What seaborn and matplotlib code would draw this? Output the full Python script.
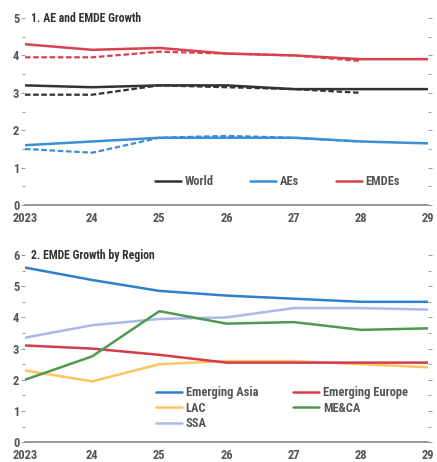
import pandas as pd
import matplotlib.pyplot as plt
import seaborn as sns
from matplotlib.ticker import MultipleLocator
from matplotlib import font_manager

# Data
years = [2023, 2024, 2025, 2026, 2027, 2028, 2029]
year_labels = ["2023", "24", "25", "26", "27", "28", "29"]

world = [3.2, 3.15, 3.2, 3.2, 3.1, 3.1, 3.1]
aes = [1.6, 1.7, 1.8, 1.8, 1.8, 1.7, 1.65]
emdes = [4.3, 4.15, 4.2, 4.05, 4.0, 3.9, 3.9]
# previous forecast (dashed), ends in 2028
prev_years = [2023, 2024, 2025, 2026, 2027, 2028]
world_prev = [2.95, 2.95, 3.2, 3.15, 3.1, 3.0]
aes_prev = [1.5, 1.4, 1.8, 1.85, 1.8, 1.7]
emdes_prev = [3.95, 3.95, 4.1, 4.05, 4.0, 3.85]

asia = [5.6, 5.2, 4.85, 4.7, 4.6, 4.5, 4.5]
europe = [3.1, 3.0, 2.8, 2.55, 2.55, 2.55, 2.55]
lac = [2.3, 1.95, 2.5, 2.6, 2.6, 2.5, 2.4]
meca = [2.0, 2.75, 4.2, 3.8, 3.85, 3.6, 3.65]
ssa = [3.35, 3.75, 3.95, 4.0, 4.3, 4.3, 4.25]

c_world, c_aes, c_emdes = "#333333", "#3b8fd6", "#d8414f"
c_asia, c_eur, c_lac, c_meca, c_ssa = "#2f80cc", "#d23c4b", "#fbc662", "#4f9a4f", "#a9b9ea"

sns.set_style("white")
installed = {f.name for f in font_manager.fontManager.ttflist}
narrow = [f for f in ["Liberation Sans Narrow", "Roboto Condensed", "Open Sans Condensed"]
          if f in installed]
plt.rcParams['font.family'] = narrow + ['Liberation Sans', 'DejaVu Sans']
plt.rcParams['font.weight'] = 'bold'

fig, (ax1, ax2) = plt.subplots(2, 1, figsize=(4.37, 4.62), dpi=100)
fig.subplots_adjust(left=0.057, right=0.98, top=0.961, bottom=0.043, hspace=0.267)

df1 = pd.DataFrame({"year": years, "World": world, "AEs": aes, "EMDEs": emdes})
df1p = pd.DataFrame({"year": prev_years, "World": world_prev, "AEs": aes_prev, "EMDEs": emdes_prev})
for name, col in [("World", c_world), ("AEs", c_aes), ("EMDEs", c_emdes)]:
    sns.lineplot(data=df1, x="year", y=name, color=col, lw=1.8, label=name, ax=ax1)
    sns.lineplot(data=df1p, x="year", y=name, color=col, lw=1.6, ls=(0, (2.5, 1.2)), ax=ax1)

df2 = pd.DataFrame({"year": years, "Emerging Asia": asia, "Emerging Europe": europe,
                    "LAC": lac, "ME&CA": meca, "SSA": ssa})
for name, col in [("Emerging Asia", c_asia), ("LAC", c_lac), ("SSA", c_ssa),
                  ("Emerging Europe", c_eur), ("ME&CA", c_meca)]:
    sns.lineplot(data=df2, x="year", y=name, color=col, lw=1.8, label=name, ax=ax2)

def style(ax, ymax, title):
    ax.set_xlim(2023, 2029)
    ax.set_ylim(0, ymax)
    ax.set_xlabel("")
    ax.set_ylabel("")
    ax.set_xticks(years)
    ax.set_xticklabels(year_labels)
    ax.yaxis.set_major_locator(MultipleLocator(1))
    ax.yaxis.set_minor_locator(MultipleLocator(0.5))
    for s in ["left", "right", "top"]:
        ax.spines[s].set_visible(False)
    ax.spines["bottom"].set_color("#888888")
    ax.spines["bottom"].set_linewidth(1.2)
    ax.tick_params(axis="x", direction="in", length=3, color="#888888", labelsize=9,
                   labelcolor="#555555", pad=5)
    ax.tick_params(axis="y", which="both", left=True, right=True, direction="out",
                   length=3, width=0.7, color="#999999", labelsize=9,
                   labelcolor="#555555", pad=1)
    ax.tick_params(axis="y", which="minor", length=2)
    ax.text(0.015, 1.0, title, transform=ax.transAxes, fontsize=8.5, fontweight="bold",
            color="#333333", va="center", ha="left")

style(ax1, 5, "1. AE and EMDE Growth")
style(ax2, 6, "2. EMDE Growth by Region")

ax1.legend(loc="lower right", bbox_to_anchor=(0.958, 0.03), ncol=3, frameon=False,
           fontsize=9, handlelength=2.1, handletextpad=0.3, columnspacing=2.9,
           labelcolor="#555555")
ax2.legend(loc="lower right", bbox_to_anchor=(0.978, 0.003), ncol=2, frameon=False,
           fontsize=9, handlelength=2.1, handletextpad=0.3, columnspacing=2.8,
           labelspacing=0.2, labelcolor="#555555")

fig.savefig("out.png", dpi=100)
